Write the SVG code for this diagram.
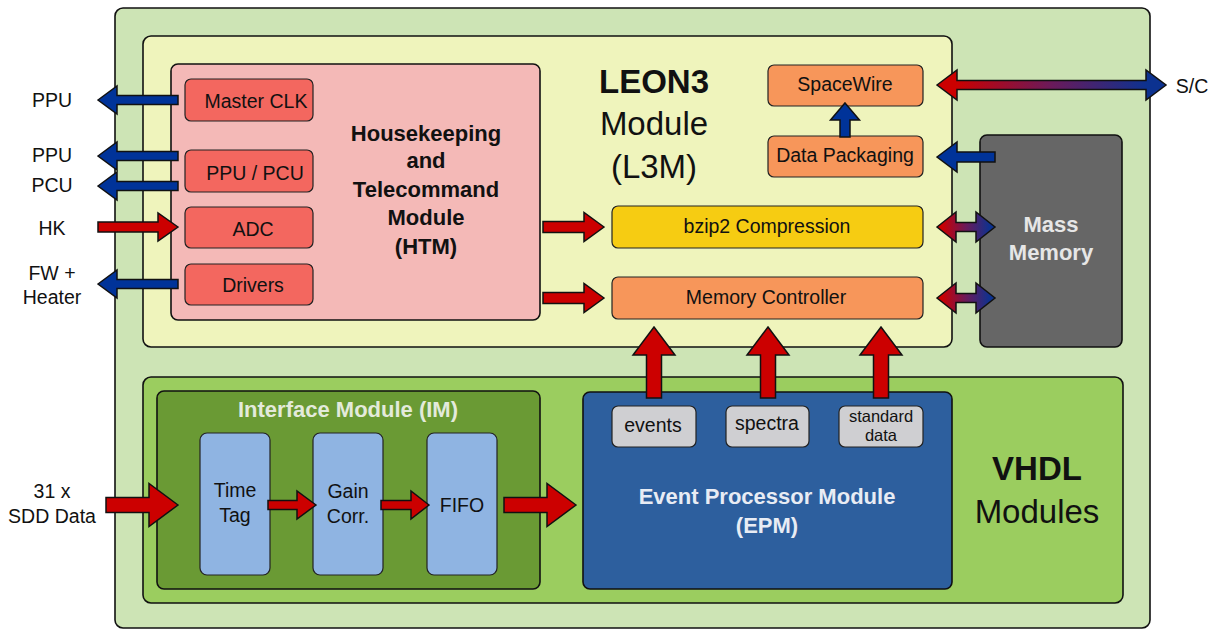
<svg xmlns="http://www.w3.org/2000/svg" width="1215" height="630" viewBox="0 0 1215 630">
<defs>
<linearGradient id="rb" x1="0" y1="0" x2="1" y2="0">
<stop offset="0.08" stop-color="#cc0000"/>
<stop offset="0.5" stop-color="#6a1a5a"/>
<stop offset="0.92" stop-color="#0c3290"/>
</linearGradient>
<style>
.box{stroke:#111;stroke-width:1.6}
.sb{stroke:#222;stroke-width:1.2}
.t{font-family:"Liberation Sans",Arial,sans-serif;font-size:19.5px;fill:#111;text-anchor:middle}
.b{font-family:"Liberation Sans",Arial,sans-serif;font-weight:bold;font-size:22px;text-anchor:middle}
.big{font-family:"Liberation Sans",Arial,sans-serif;font-size:33px;fill:#111;text-anchor:middle}
.red{fill:#cc0000;stroke:#111;stroke-width:1.5;stroke-linejoin:miter}
.blue{fill:#003399;stroke:#111;stroke-width:1.5}
.grad{fill:url(#rb);stroke:#111;stroke-width:1.5}
</style>
</defs>
<rect width="1215" height="630" fill="#ffffff"/>

<g id="outer"><rect class="box" x="115" y="8" width="1035" height="620" rx="8" fill="#cde4b5"/></g>

<g id="leon3">
<rect class="box" x="143" y="36" width="809" height="311" rx="8" fill="#eff4bc"/>
<text class="big" x="654" y="93" font-weight="bold">LEON3</text>
<text class="big" x="654" y="135">Module</text>
<text class="big" x="654" y="178">(L3M)</text>
</g>

<g id="htm">
<rect class="box" x="171" y="64" width="369" height="256" rx="7" fill="#f4b9b7"/>
<text class="b" x="426" y="141" fill="#111">Housekeeping</text>
<text class="b" x="426" y="168" fill="#111">and</text>
<text class="b" x="426" y="197" fill="#111">Telecommand</text>
<text class="b" x="426" y="225" fill="#111">Module</text>
<text class="b" x="426" y="254" fill="#111">(HTM)</text>
</g>
<g id="masterclk"><rect class="sb" x="185" y="79" width="128" height="42" rx="6" fill="#f3675f"/><text class="t" x="256" y="108">Master CLK</text></g>
<g id="ppupcu"><rect class="sb" x="185" y="150" width="128" height="42" rx="6" fill="#f3675f"/><text class="t" x="255" y="180">PPU / PCU</text></g>
<g id="adc"><rect class="sb" x="185" y="207" width="128" height="41" rx="6" fill="#f3675f"/><text class="t" x="253" y="236">ADC</text></g>
<g id="drivers"><rect class="sb" x="185" y="264" width="128" height="41" rx="6" fill="#f3675f"/><text class="t" x="253" y="292">Drivers</text></g>

<g id="spacewire"><rect class="sb" x="768" y="65" width="155" height="41" rx="6" fill="#f7965a"/><text class="t" x="845" y="91">SpaceWire</text></g>
<g id="datapack"><rect class="sb" x="768" y="136" width="155" height="41" rx="6" fill="#f7965a"/><text class="t" x="845" y="162">Data Packaging</text></g>
<g id="bzip2"><rect class="sb" x="612" y="206" width="311" height="42" rx="6" fill="#f6cc12"/><text class="t" x="767" y="233">bzip2 Compression</text></g>
<g id="memctrl"><rect class="sb" x="612" y="277" width="311" height="42" rx="6" fill="#f7965a"/><text class="t" x="766" y="304">Memory Controller</text></g>

<g id="massmem">
<rect class="box" x="980" y="135" width="142" height="212" rx="7" fill="#666666"/>
<text class="b" x="1051" y="232" fill="#e6e6e6">Mass</text>
<text class="b" x="1051" y="260" fill="#e6e6e6">Memory</text>
</g>

<g id="vhdl">
<rect class="box" x="143" y="377" width="980" height="226" rx="8" fill="#9bcd5f"/>
<text class="big" x="1037" y="480" font-weight="bold">VHDL</text>
<text class="big" x="1037" y="523">Modules</text>
</g>

<g id="im">
<rect class="box" x="157" y="391" width="383" height="198" rx="7" fill="#6a9a34"/>
<text class="b" x="348" y="417" fill="#e3eadb">Interface Module (IM)</text>
</g>
<g id="timetag"><rect class="sb" x="200" y="433" width="70" height="142" rx="7" fill="#8fb4e2"/><text class="t" x="235" y="497">Time</text><text class="t" x="235" y="522">Tag</text></g>
<g id="gaincorr"><rect class="sb" x="313" y="433" width="70" height="142" rx="7" fill="#8fb4e2"/><text class="t" x="348" y="498">Gain</text><text class="t" x="348" y="523">Corr.</text></g>
<g id="fifo"><rect class="sb" x="427" y="433" width="70" height="142" rx="7" fill="#8fb4e2"/><text class="t" x="462" y="512">FIFO</text></g>

<g id="epm">
<rect class="box" x="583" y="392" width="369" height="197" rx="7" fill="#2d5f9e"/>
<text class="b" x="767" y="504" fill="#e8ecf4">Event Processor Module</text>
<text class="b" x="767" y="533" fill="#e8ecf4">(EPM)</text>
</g>
<g id="events"><rect class="sb" x="612" y="406" width="84" height="41" rx="6" fill="#cfcfd2"/><text class="t" x="653" y="432">events</text></g>
<g id="spectra"><rect class="sb" x="726" y="406" width="83" height="41" rx="6" fill="#cfcfd2"/><text class="t" x="767" y="430">spectra</text></g>
<g id="stddata"><rect class="sb" x="839" y="406" width="84" height="41" rx="6" fill="#cfcfd2"/><text class="t" x="881" y="422" style="font-size:16.5px">standard</text><text class="t" x="881" y="441" style="font-size:16.5px">data</text></g>

<g id="labels">
<text class="t" x="52" y="107">PPU</text>
<text class="t" x="52" y="162">PPU</text>
<text class="t" x="52" y="192">PCU</text>
<text class="t" x="52" y="235">HK</text>
<text class="t" x="52" y="280">FW +</text>
<text class="t" x="52" y="304">Heater</text>
<text class="t" x="52" y="498">31 x</text>
<text class="t" x="52" y="523">SDD Data</text>
<text class="t" x="1192" y="93">S/C</text>
</g>

<g id="connectors">
<!-- blue left arrows out of HTM -->
<path class="blue" d="M98,100 L117,86 L117,95.5 L178,95.5 L178,104.5 L117,104.5 L117,114 Z"/>
<path class="blue" d="M98,156 L117,142 L117,151.5 L178,151.5 L178,160.5 L117,160.5 L117,170 Z"/>
<path class="blue" d="M98,186 L117,172 L117,181.5 L178,181.5 L178,190.5 L117,190.5 L117,200 Z"/>
<path class="blue" d="M98,284 L117,270 L117,279.5 L178,279.5 L178,288.5 L117,288.5 L117,298 Z"/>
<!-- HK in -->
<path class="red" d="M178,227 L158,213 L158,222 L98,222 L98,232 L158,232 L158,241 Z"/>
<!-- HTM to bzip2 / memctrl -->
<path class="red" d="M604,227 L584,212.5 L584,221.5 L543,221.5 L543,232.5 L584,232.5 L584,241.5 Z"/>
<path class="red" d="M604,298 L584,283.5 L584,292.5 L543,292.5 L543,303.5 L584,303.5 L584,312.5 Z"/>
<!-- S/C bidirectional -->
<path class="grad" d="M937,85 L957,70 L957,80.5 L1146,80.5 L1146,70 L1166,85 L1146,100 L1146,89.5 L957,89.5 L957,100 Z"/>
<!-- Data packaging to SpaceWire -->
<path class="blue" d="M845,103 L859.5,120 L850,120 L850,137 L840,137 L840,120 L830.5,120 Z"/>
<!-- Mass memory to data packaging -->
<path class="blue" d="M937,157 L957,142 L957,152 L995,152 L995,162 L957,162 L957,172 Z"/>
<!-- Mass memory bidirectional -->
<path class="grad" d="M937,227 L956,212 L956,222.5 L976,222.5 L976,212 L995,227 L976,242 L976,231.5 L956,231.5 L956,242 Z"/>
<path class="grad" d="M937,298 L956,283 L956,293.5 L976,293.5 L976,283 L995,298 L976,313 L976,302.5 L956,302.5 L956,313 Z"/>
<!-- EPM up to memory controller -->
<path class="red" d="M654,327 L675,355 L661.5,355 L661.5,398 L646.5,398 L646.5,355 L633,355 Z"/>
<path class="red" d="M768,327 L789,355 L775.5,355 L775.5,398 L760.5,398 L760.5,355 L747,355 Z"/>
<path class="red" d="M881,327 L902,355 L888.5,355 L888.5,398 L873.5,398 L873.5,355 L860,355 Z"/>
<!-- IM chain -->
<path class="red" d="M178,505 L149,483.5 L149,497.5 L106,497.5 L106,512.5 L149,512.5 L149,526.5 Z"/>
<path class="red" d="M316,505 L297,491 L297,500.5 L268,500.5 L268,509.5 L297,509.5 L297,519 Z"/>
<path class="red" d="M429,505 L411,491 L411,500.5 L381,500.5 L381,509.5 L411,509.5 L411,519 Z"/>
<path class="red" d="M576,505 L547,483.5 L547,497.5 L504,497.5 L504,512.5 L547,512.5 L547,526.5 Z"/>
</g>
</svg>
